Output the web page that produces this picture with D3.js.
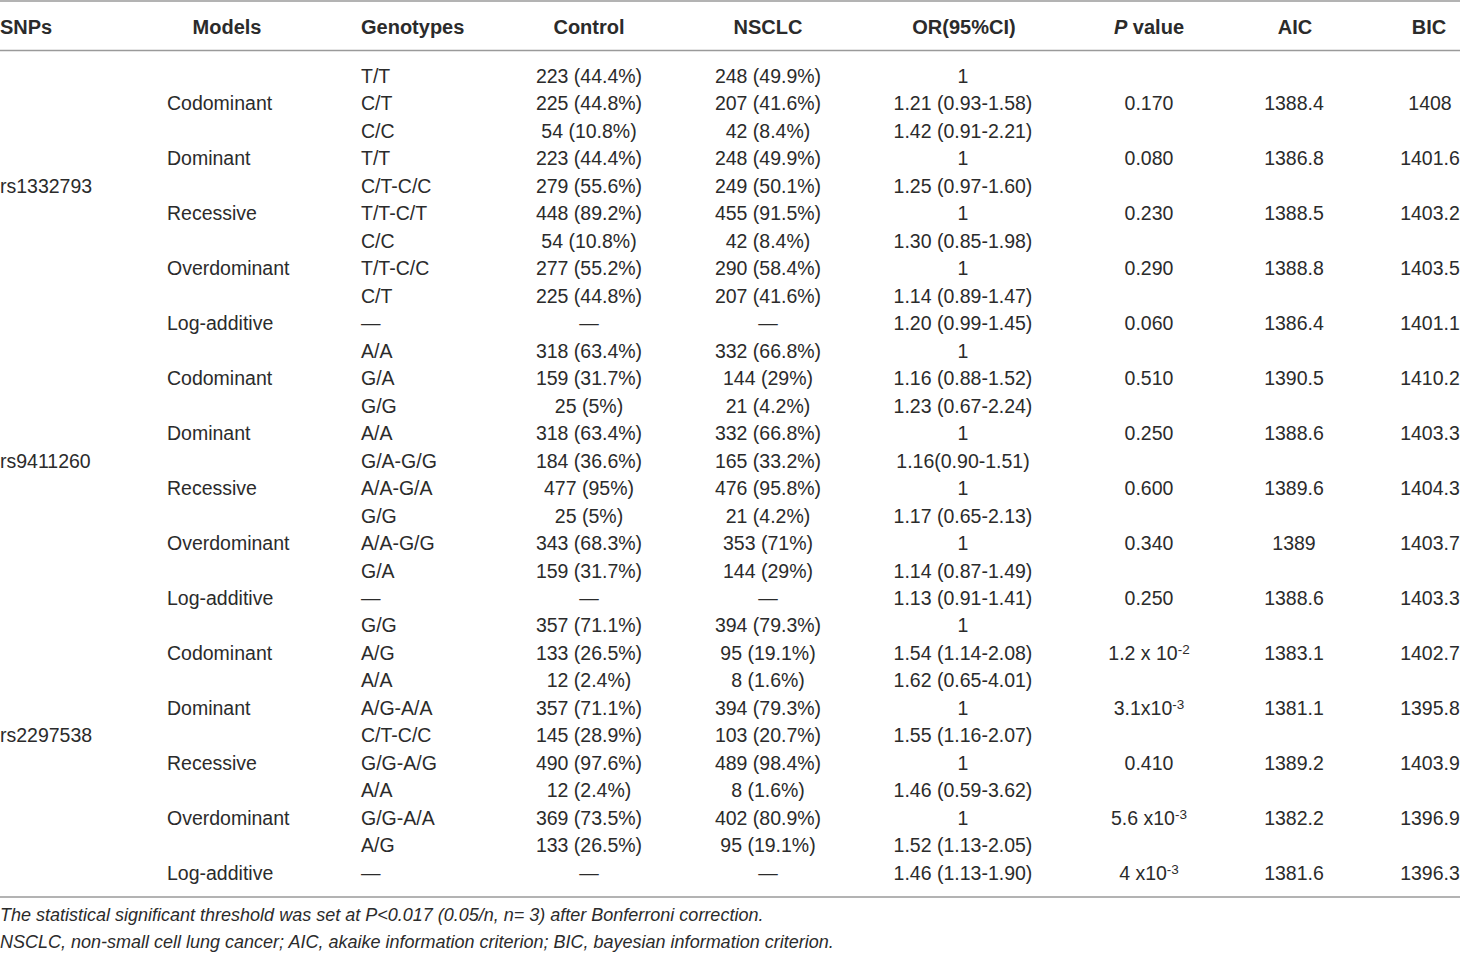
<!DOCTYPE html>
<html><head><meta charset="utf-8">
<script src="https://cdn.jsdelivr.net/npm/d3@7"></script>
<style>
html,body{margin:0;padding:0;background:#fff;}
svg{display:block;}
text{font-family:"Liberation Sans",Arial,sans-serif;fill:#2b2b2b;}
</style></head>
<body>
<svg id="chart" width="1460" height="953"></svg>
<script>
// ---- Data ----
const headers = ["SNPs","Models","Genotypes","Control","NSCLC","OR(95%CI)","P value","AIC","BIC"];
const snps = ["rs1332793","rs9411260","rs2297538"];
const snpRows = [4,14,24];
const models = ["Codominant","Dominant","Recessive","Overdominant","Log-additive",
                "Codominant","Dominant","Recessive","Overdominant","Log-additive",
                "Codominant","Dominant","Recessive","Overdominant","Log-additive"];
const modelRows = [1,3,5,7,9, 11,13,15,17,19, 21,23,25,27,29];
const genotypes = ["T/T","C/T","C/C","T/T","C/T-C/C","T/T-C/T","C/C","T/T-C/C","C/T","—",
                   "A/A","G/A","G/G","A/A","G/A-G/G","A/A-G/A","G/G","A/A-G/G","G/A","—",
                   "G/G","A/G","A/A","A/G-A/A","C/T-C/C","G/G-A/G","A/A","G/G-A/A","A/G","—"];
const control = ["223 (44.4%)","225 (44.8%)","54 (10.8%)","223 (44.4%)","279 (55.6%)","448 (89.2%)","54 (10.8%)","277 (55.2%)","225 (44.8%)","—",
                 "318 (63.4%)","159 (31.7%)","25 (5%)","318 (63.4%)","184 (36.6%)","477 (95%)","25 (5%)","343 (68.3%)","159 (31.7%)","—",
                 "357 (71.1%)","133 (26.5%)","12 (2.4%)","357 (71.1%)","145 (28.9%)","490 (97.6%)","12 (2.4%)","369 (73.5%)","133 (26.5%)","—"];
const nsclc = ["248 (49.9%)","207 (41.6%)","42 (8.4%)","248 (49.9%)","249 (50.1%)","455 (91.5%)","42 (8.4%)","290 (58.4%)","207 (41.6%)","—",
               "332 (66.8%)","144 (29%)","21 (4.2%)","332 (66.8%)","165 (33.2%)","476 (95.8%)","21 (4.2%)","353 (71%)","144 (29%)","—",
               "394 (79.3%)","95 (19.1%)","8 (1.6%)","394 (79.3%)","103 (20.7%)","489 (98.4%)","8 (1.6%)","402 (80.9%)","95 (19.1%)","—"];
const orci = ["1","1.21 (0.93-1.58)","1.42 (0.91-2.21)","1","1.25 (0.97-1.60)","1","1.30 (0.85-1.98)","1","1.14 (0.89-1.47)","1.20 (0.99-1.45)",
              "1","1.16 (0.88-1.52)","1.23 (0.67-2.24)","1","1.16(0.90-1.51)","1","1.17 (0.65-2.13)","1","1.14 (0.87-1.49)","1.13 (0.91-1.41)",
              "1","1.54 (1.14-2.08)","1.62 (0.65-4.01)","1","1.55 (1.16-2.07)","1","1.46 (0.59-3.62)","1","1.52 (1.13-2.05)","1.46 (1.13-1.90)"];
// P values: base text and superscript exponent ("" when none)
const pBase = ["0.170","0.080","0.230","0.290","0.060",
               "0.510","0.250","0.600","0.340","0.250",
               "1.2 x 10","3.1x10","0.410","5.6 x10","4 x10"];
const pExp  = ["","","","","",
               "","","","","",
               "-2","-3","","-3","-3"];
const aic = ["1388.4","1386.8","1388.5","1388.8","1386.4",
             "1390.5","1388.6","1389.6","1389","1388.6",
             "1383.1","1381.1","1389.2","1382.2","1381.6"];
const bic = ["1408","1401.6","1403.2","1403.5","1401.1",
             "1410.2","1403.3","1404.3","1403.7","1403.3",
             "1402.7","1395.8","1403.9","1396.9","1396.3"];
const footnotes = ["The statistical significant threshold was set at P<0.017 (0.05/n, n= 3) after Bonferroni correction.",
                   "NSCLC, non-small cell lung cancer; AIC, akaike information criterion; BIC, bayesian information criterion."];

// ---- Layout ----
const svg = d3.select("#chart");
const W = 1460;
const FS = 19.5;
const y = d3.scaleLinear().domain([0, genotypes.length - 1]).range([76, 873]);
const colKeys = ["snp","model","geno","control","nsclc","or","p","aic","bic"];
const x = d3.scaleOrdinal().domain(colKeys).range([0,167,361,589,768,963,1149,1294,1430]);
const headerX = d3.scaleOrdinal().domain(colKeys).range([0,227,361,589,768,964,1149,1295,1429]);
const anchor = d3.scaleOrdinal().domain(colKeys).range(["start","start","start","middle","middle","middle","middle","middle","middle"]);

// rules
const lines = [1, 50.5, 897];
svg.selectAll("line.rule").data(lines).join("line")
  .attr("class","rule").attr("x1",0).attr("x2",W)
  .attr("y1",d=>d).attr("y2",d=>d)
  .attr("stroke","#9a9a9a").attr("stroke-width",1.6);

// header
const hdr = svg.append("g").attr("class","header");
headers.forEach((h,i)=>{
  const k = colKeys[i];
  const t = hdr.append("text")
    .attr("x", headerX(k)).attr("y", 27).attr("dy","0.35em")
    .attr("text-anchor", i===0 || i===2 ? "start" : "middle")
    .style("font-size","20px").style("font-weight","bold");
  if (h === "P value") {
    t.append("tspan").style("font-style","italic").text("P");
    t.append("tspan").text(" value");
  } else t.text(h);
});

const body = svg.append("g").attr("class","body").style("font-size", FS+"px");
function col(key, data, rows){
  body.selectAll("text."+key).data(data).join("text")
    .attr("class", key)
    .attr("x", x(key))
    .attr("y", (d,i)=> y(rows ? rows[i] : i))
    .attr("dy","0.35em")
    .attr("text-anchor", anchor(key))
    .text(d=>d);
}
col("snp", snps, snpRows);
col("model", models, modelRows);
col("geno", genotypes);
col("control", control);
col("nsclc", nsclc);
col("or", orci);
col("aic", aic, modelRows);
col("bic", bic, modelRows);

// P values with superscripts
body.selectAll("text.p").data(pBase).join("text")
  .attr("class","p")
  .attr("x", x("p"))
  .attr("y", (d,i)=> y(modelRows[i]))
  .attr("dy","0.35em")
  .attr("text-anchor","middle")
  .each(function(d,i){
    const t = d3.select(this);
    t.append("tspan").text(d);
    if (pExp[i]) {
      t.append("tspan").attr("dy","-0.45em").style("font-size","13.5px").text(pExp[i]);
    }
  });

// footnotes
svg.selectAll("text.foot").data(footnotes).join("text")
  .attr("class","foot")
  .attr("x",0).attr("y",(d,i)=> 915 + i*27).attr("dy","0.35em")
  .style("font-size","18px").style("font-style","italic")
  .text(d=>d);
</script>
</body></html>
